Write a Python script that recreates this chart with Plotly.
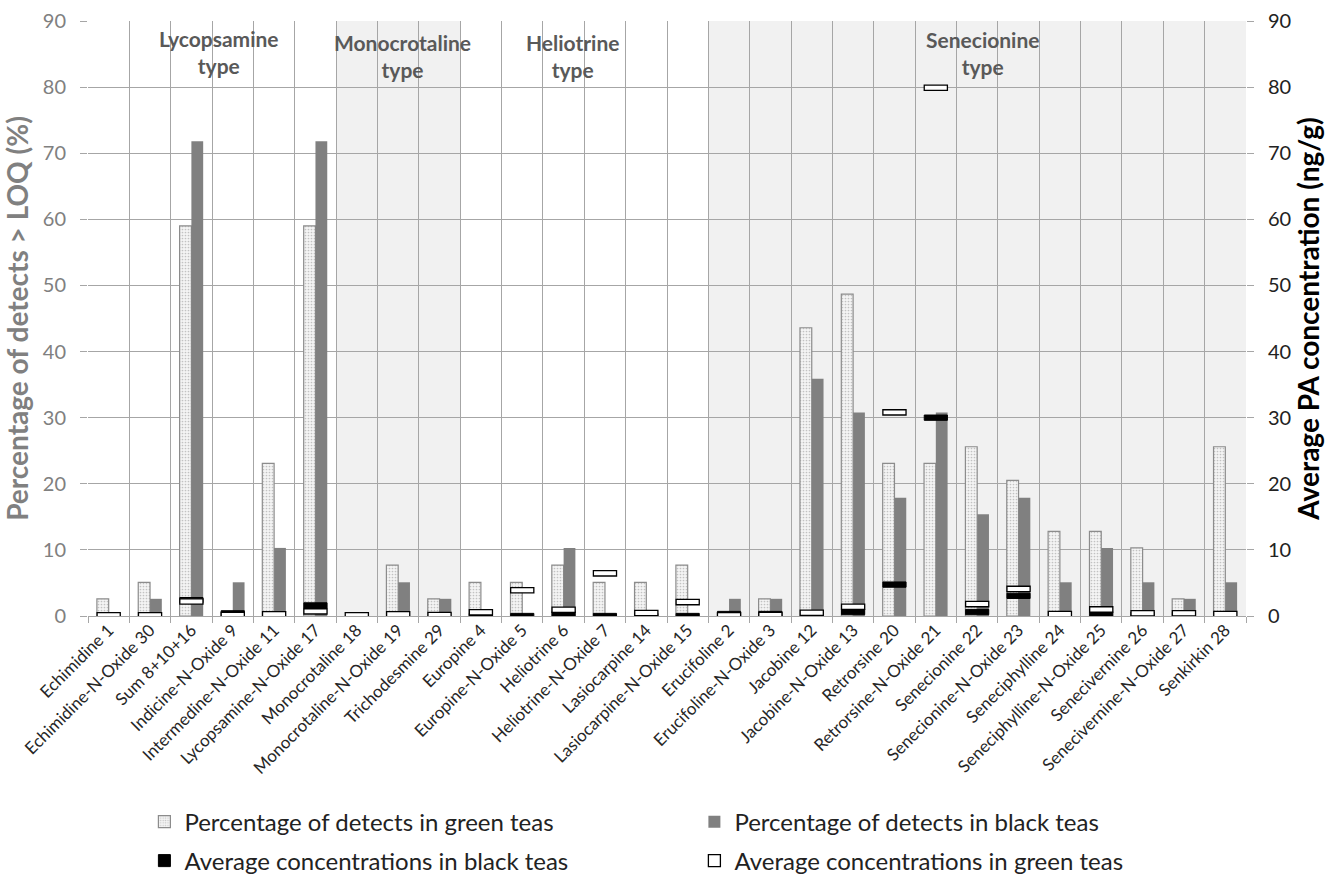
import plotly.graph_objects as go

# Pyrrolizidine alkaloids, in chart order
categories = [
    "Echimidine 1", "Echimidine-N-Oxide 30", "Sum 8+10+16", "Indicine-N-Oxide 9",
    "Intermedine-N-Oxide 11", "Lycopsamine-N-Oxide 17", "Monocrotaline 18",
    "Monocrotaline-N-Oxide 19", "Trichodesmine 29", "Europine 4", "Europine-N-Oxide 5",
    "Heliotrine 6", "Heliotrine-N-Oxide 7", "Lasiocarpine 14", "Lasiocarpine-N-Oxide 15",
    "Erucifoline 2", "Erucifoline-N-Oxide 3", "Jacobine 12", "Jacobine-N-Oxide 13",
    "Retrorsine 20", "Retrorsine-N-Oxide 21", "Senecionine 22", "Senecionine-N-Oxide 23",
    "Seneciphylline 24", "Seneciphylline-N-Oxide 25", "Senecivernine 26",
    "Senecivernine-N-Oxide 27", "Senkirkin 28",
]

# Percentage of samples with detects > LOQ
green_pct = [2.6, 5.1, 59.0, 0, 23.1, 59.0, 0, 7.7, 2.6, 5.1, 5.1, 7.7, 5.1, 5.1,
             7.7, 0, 2.6, 43.6, 48.7, 23.1, 23.1, 25.6, 20.5, 12.8, 12.8, 10.3, 2.6, 25.6]
black_pct = [0, 2.6, 71.8, 5.1, 10.3, 71.8, 0, 5.1, 2.6, 0, 0, 10.3, 0, 0,
             0, 2.6, 2.6, 35.9, 30.8, 17.9, 30.8, 15.4, 17.9, 5.1, 10.3, 5.1, 2.6, 5.1]

# Average PA concentration (ng/g)
green_conc = [0.1, 0.1, 2.2, 0.15, 0.25, 0.7, 0.1, 0.25, 0.15, 0.55, 3.9, 0.95, 6.45, 0.45,
              2.1, 0.1, 0.15, 0.5, 1.4, 30.8, 79.9, 1.8, 4.1, 0.3, 1.0, 0.4, 0.4, 0.3]
black_conc = [None, None, 2.4, 0.4, None, 1.6, None, None, None, 0.0, 0.0, 0.3, 0.0, 0.0,
              0.0, 0.3, 0.3, None, 0.6, 4.75, 30.0, 0.6, 3.05, None, 0.25, 0.2, 0.2, None]

# Structural groups: label, first/last category index, shaded band, label position (paper)
groups = [
    ("Lycopsamine<br>type", 0, 5, False, 0.1135, 0.948),
    ("Monocrotaline<br>type", 6, 8, True, 0.2714, 0.9415),
    ("Heliotrine<br>type", 9, 14, False, 0.4189, 0.9407),
    ("Senecionine<br>type", 15, 27, True, 0.7726, 0.9457),
]

FONT = "Lato"
GRID = "#a6a6a6"
BAR_W = 0.285      # width of each percentage bar (category units)
MARK_W = 0.56      # width of a concentration marker (category units)
MARK_H = 0.8       # height of a concentration marker (ng/g)


def marker_base(vals):
    return [None if v is None else v - MARK_H / 2 for v in vals]


def marker_height(vals):
    return [None if v is None else MARK_H for v in vals]


fig = go.Figure()

fig.add_trace(go.Bar(
    x=categories, y=green_pct, offset=-BAR_W, width=BAR_W,
    name="Percentage of detects in green teas",
    marker=dict(color="#f3f3f3", line=dict(color="#8c8c8c", width=1.2),
                pattern=dict(shape=".", fgcolor="#c2c2c2", bgcolor="#f4f4f4",
                             size=3, solidity=0.25, fillmode="replace")),
    legend="legend",
))
fig.add_trace(go.Bar(
    x=categories, y=black_pct, offset=0, width=BAR_W,
    name="Percentage of detects in black teas",
    marker=dict(color="#808080", line=dict(width=0)),
    legend="legend",
))
fig.add_trace(go.Bar(
    x=categories, y=marker_height(black_conc), base=marker_base(black_conc),
    offset=-MARK_W / 2, width=MARK_W, yaxis="y2", cliponaxis=False,
    name="Average concentrations in black teas",
    marker=dict(color="#000000", line=dict(color="#000000", width=1)),
    legend="legend2",
))
fig.add_trace(go.Bar(
    x=categories, y=marker_height(green_conc), base=marker_base(green_conc),
    offset=-MARK_W / 2, width=MARK_W, yaxis="y2", cliponaxis=False,
    name="Average concentrations in green teas",
    marker=dict(color="#ffffff", line=dict(color="#000000", width=1.3)),
    legend="legend2",
))

shapes = []
annotations = []
for label, i0, i1, shaded, ax, ay in groups:
    if shaded:
        shapes.append(dict(type="rect", xref="x", yref="paper", x0=i0 - 0.5, x1=i1 + 0.5,
                           y0=0, y1=1, fillcolor="#f1f1f1", line=dict(width=0), layer="below"))
    annotations.append(dict(text=label, xref="paper", yref="paper", x=ax, y=ay,
                            showarrow=False, xanchor="center", yanchor="middle",
                            font=dict(family=FONT, size=21, color="#595959", weight="bold")))

legend_font = dict(family=FONT, size=24, color="#222222")

fig.update_layout(
    width=1331, height=876,
    margin=dict(l=88, r=85, t=21, b=260),
    paper_bgcolor="white", plot_bgcolor="white",
    barmode="overlay",
    font=dict(family=FONT, color="#333333"),
    shapes=shapes, annotations=annotations,
    xaxis=dict(
        type="category", range=[-0.5, 27.5], tickson="boundaries", automargin=False,
        showgrid=True, gridcolor=GRID, gridwidth=1,
        ticks="outside", ticklen=6, tickcolor=GRID,
        tickangle=-45, tickfont=dict(family=FONT, size=17, color="#262626"),
        showline=False, zeroline=False,
    ),
    yaxis=dict(
        range=[0, 90], dtick=10, showgrid=True, gridcolor=GRID, gridwidth=1,
        zeroline=True, zerolinecolor=GRID, zerolinewidth=1, automargin=False,
        ticks="outside", ticklen=7, tickcolor=GRID, ticklabelstandoff=10,
        tickfont=dict(family=FONT, size=20, color="#808080"),
        title=dict(text="Percentage of detects > LOQ (%)", standoff=9,
                   font=dict(family=FONT, size=28, color="#808080", weight="bold")),
    ),
    yaxis2=dict(
        range=[0, 90], dtick=10, overlaying="y", side="right", showgrid=False,
        zeroline=False, automargin=False, ticks="outside", ticklen=7, tickcolor=GRID,
        ticklabelstandoff=10,
        tickfont=dict(family=FONT, size=20, color="#222222"),
        title=dict(text="Average PA concentration (ng/g)", standoff=9,
                   font=dict(family=FONT, size=28, color="#000000", weight="bold")),
    ),
    legend=dict(orientation="h", x=0.0487, xanchor="left", yref="container",
                y=0.0616, yanchor="middle", entrywidth=505, font=legend_font,
                bgcolor="rgba(0,0,0,0)"),
    legend2=dict(orientation="h", x=0.0487, xanchor="left", yref="container",
                 y=0.0171, yanchor="middle", entrywidth=505, font=legend_font,
                 bgcolor="rgba(0,0,0,0)"),
)

fig.write_html("out.html")
